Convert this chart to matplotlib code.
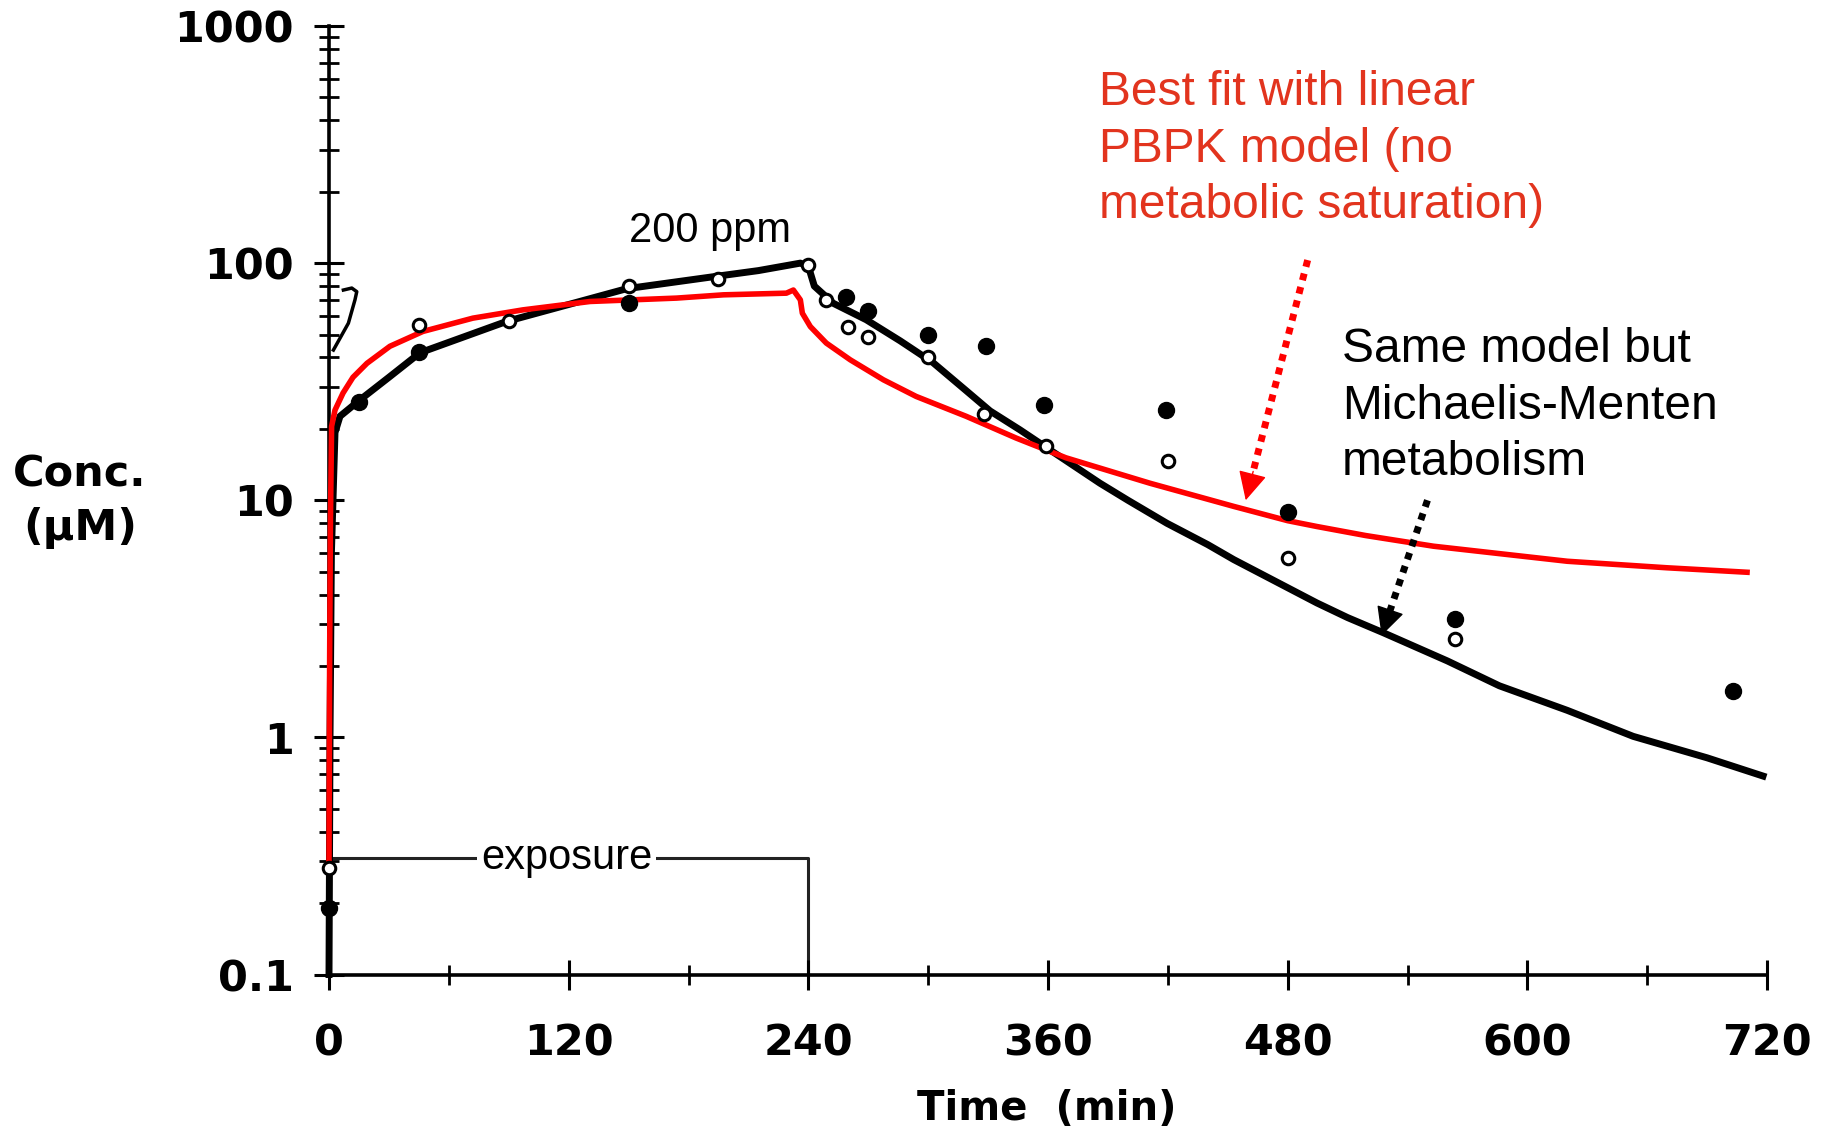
import numpy as np
import matplotlib.pyplot as plt
from matplotlib.ticker import FixedLocator, LogLocator, NullFormatter

# Michaelis-Menten model curve (time in min, concentration in uM)
t_mm = [0, 0.5, 1.2, 3, 5.5, 15.5, 30, 45.6, 89, 149, 194, 215, 236, 240, 243,
        252.5, 269, 286, 302.5, 319, 331, 346, 361, 386, 400, 419.5, 440, 453,
        494.6, 510, 528, 560, 586, 620, 653, 690, 718]
c_mm = [0.1, 1, 6, 19.3, 22.6, 26.5, 33, 41.9, 56.8, 78, 88, 93, 100, 97, 80,
        67.7, 57.7, 47, 38, 29, 23.8, 19.8, 16.3, 11.8, 10.0, 8.0, 6.5, 5.62,
        3.69, 3.2, 2.76, 2.1, 1.65, 1.30, 1.01, 0.82, 0.687]

# linear PBPK model curve
t_lin = [0, 0.3, 0.7, 1.3, 3, 7, 12, 19, 30.5, 47, 72, 97, 130.7, 174, 197.5,
         229, 232.5, 236, 237, 241, 249, 261, 277.6, 294, 319, 344, 369, 411,
         453, 480, 494.6, 519, 553, 620, 670, 710]
c_lin = [0.3, 2, 8, 20.5, 24, 28.3, 33, 37.8, 44.6, 51.5, 58.6, 63.5, 68.9,
         71.2, 73.5, 74.7, 77, 70, 61.5, 54, 46, 39.1, 32.2, 27.4, 22.6, 18.3,
         15.1, 11.8, 9.42, 8.2, 7.75, 7.1, 6.4, 5.53, 5.19, 4.97]

# thin curve close to the axis at the start of exposure
t_early = [2.2, 9.7, 13, 13.9, 11.4, 7.2]
c_early = [43, 55.8, 70, 75.8, 78.5, 77]

# measured concentrations
t_open = [0, 45, 90, 150, 195, 240, 249, 260, 270, 300, 328, 359, 420, 480, 564]
c_open = [0.28, 55, 57, 80, 86, 98, 70, 54, 49, 40, 23, 17, 14.6, 5.7, 2.6]
t_filled = [0, 15, 45, 150, 259, 270, 300, 329, 358, 419, 480, 564, 703]
c_filled = [0.19, 26, 42, 68, 72, 63, 50, 44.6, 25.3, 24, 8.9, 3.16, 1.57]

# exposure bar
exposure_start = 0
exposure_end = 240
exposure_level = 0.31

x_ticks = [0, 120, 240, 360, 480, 600, 720]
x_minor = [60, 180, 300, 420, 540, 660]
y_ticks = [0.1, 1, 10, 100, 1000]
y_tick_labels = ['0.1', '1', '10', '100', '1000']

RED = '#ff0000'
TEXT_RED = '#e2341e'
SANS = 'Liberation Sans'

fig = plt.figure(figsize=(18.37, 11.35), dpi=100)
ax = fig.add_axes([0.1791, 0.1414, 0.7828, 0.8357])

ax.set_yscale('log')
ax.set_xlim(0, 720)
ax.set_ylim(0.1, 1000)

# exposure period
ax.plot([exposure_start, exposure_end, exposure_end],
        [exposure_level, exposure_level, 0.1], color='#222222', lw=2.2, zorder=1)
ax.text((exposure_start + exposure_end) / 2 - 1, exposure_level, 'exposure',
        ha='center', va='center', fontsize=30, family=SANS, zorder=2,
        bbox=dict(facecolor='white', edgecolor='none', pad=3))

ax.plot(t_early, c_early, color='black', lw=2.5, zorder=3)
ax.plot(t_mm, c_mm, color='black', lw=5, zorder=3, clip_on=False,
        solid_joinstyle='round')
ax.plot(t_lin, c_lin, color=RED, lw=4, zorder=4, clip_on=False,
        solid_joinstyle='round')

ax.plot(t_open, c_open, 'o', ms=9, mfc='white', mec='black', mew=2.2,
        zorder=5, clip_on=False)
ax.plot(t_filled, c_filled, 'o', ms=11.5, color='black', zorder=5, clip_on=False)

ax.text(150, 123, '200 ppm', fontsize=30, family=SANS, va='baseline')


def dotted_arrow(start, tip, color):
    # dotted shaft, then a solid head on the last stretch
    (ts, cs), (tt, ct) = start, tip
    f = 0.88
    tm = ts + f * (tt - ts)
    cm = 10 ** (np.log10(cs) + f * (np.log10(ct) - np.log10(cs)))
    ax.plot([ts, tm], [cs, cm], color=color, lw=5, linestyle=(0, (1, 1)),
            dash_capstyle='butt', zorder=6)
    ax.annotate('', xy=(tt, ct), xytext=(tm, cm), zorder=6,
                arrowprops=dict(arrowstyle='-|>,head_length=0.9,head_width=0.45',
                                mutation_scale=20, color=color, lw=1,
                                shrinkA=0, shrinkB=0))


dotted_arrow((490, 103), (459, 10), RED)
dotted_arrow((550, 10), (527, 2.69), 'black')

# axes styling
for side in ['top', 'right']:
    ax.spines[side].set_visible(False)
for side in ['left', 'bottom']:
    ax.spines[side].set_linewidth(2.6)

ax.xaxis.set_major_locator(FixedLocator(x_ticks))
ax.xaxis.set_minor_locator(FixedLocator(x_minor))
ax.yaxis.set_major_locator(FixedLocator(y_ticks))
ax.yaxis.set_minor_locator(LogLocator(base=10, subs=np.arange(2, 10)))
ax.yaxis.set_minor_formatter(NullFormatter())
ax.set_yticklabels(y_tick_labels)

ax.tick_params(axis='both', which='major', direction='inout', length=21,
               width=2.2, labelsize=31)
ax.tick_params(axis='both', which='minor', direction='inout', length=15,
               width=2)
ax.tick_params(axis='x', which='major', pad=24)
ax.tick_params(axis='y', which='major', pad=15)
for lab in ax.get_xticklabels() + ax.get_yticklabels():
    lab.set_fontweight('bold')

fig.text(80 / 1837, 1 - 501 / 1135, 'Conc.\n(μM)', ha='center', va='center',
         fontsize=31, fontweight='bold', linespacing=1.35)
fig.text(1047 / 1837, 1 - 1109 / 1135, 'Time  (min)', ha='center', va='center',
         fontsize=29, fontweight='bold')

fig.text(1099 / 1837, 1 - 70 / 1135,
         'Best fit with linear\nPBPK model (no\nmetabolic saturation)',
         ha='left', va='top', fontsize=34.5, family=SANS, color=TEXT_RED,
         linespacing=1.33)
fig.text(1342 / 1837, 1 - 327 / 1135,
         'Same model but\nMichaelis-Menten\nmetabolism',
         ha='left', va='top', fontsize=34.5, family=SANS, color='black',
         linespacing=1.33)

fig.savefig('out.png', dpi=100, facecolor='white')
